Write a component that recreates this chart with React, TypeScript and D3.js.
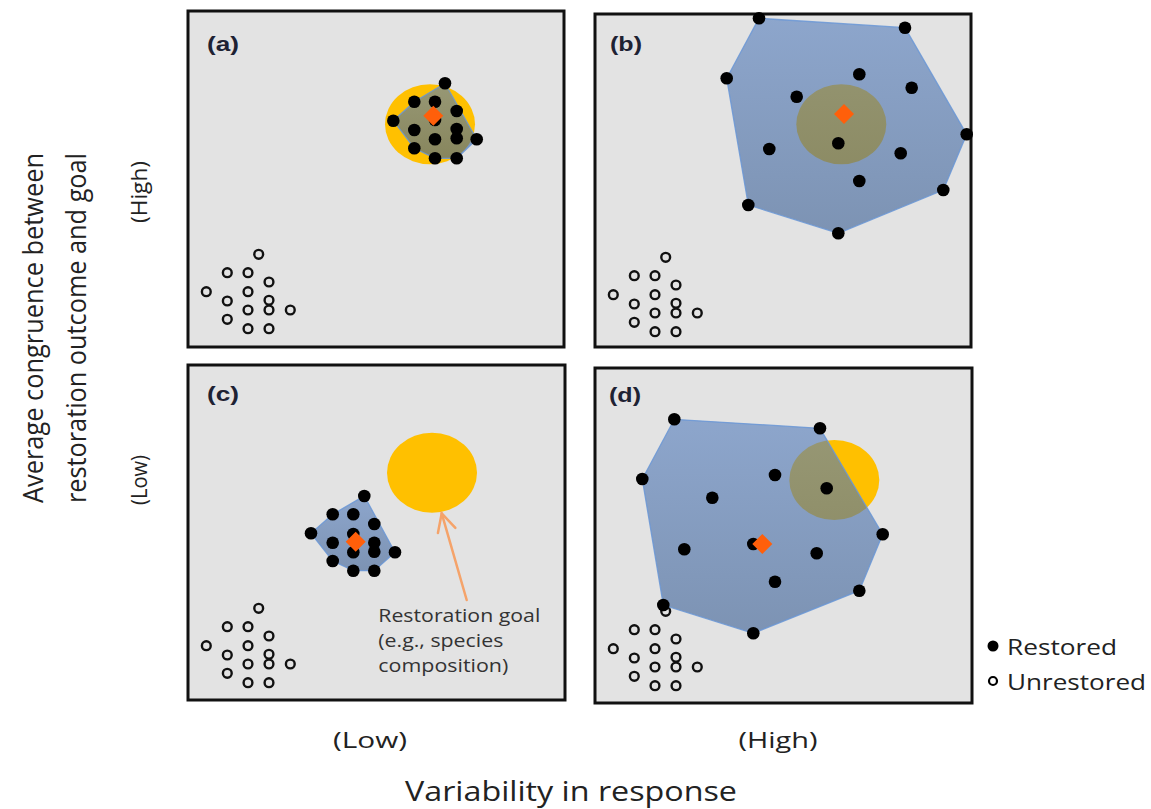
import React from "react";
import * as d3 from "d3";

type P = [number, number];

// ---------- data (panel units: x rightwards, y downwards from panel's top-left) ----------
const unrestored: P[] = [
  [70.7, 243.3], [39.3, 261.7], [60, 261.7], [81, 271], [18.3, 280.7], [60, 280.7],
  [39.3, 290], [81, 289.3], [60, 299], [81, 299], [102.3, 299], [39.3, 308.3],
  [60, 317.7], [81, 317.7],
];

const restoredA: P[] = [
  [257, 72.3], [226.3, 90.7], [247, 90.7], [268.7, 100], [205.3, 109.7], [247, 109],
  [226.3, 119], [268.7, 118], [247, 128.3], [268.7, 127.3], [288.7, 128.3],
  [226.3, 137.3], [247, 147.3], [268.7, 147.3],
];
const restoredB: P[] = [
  [164, 4.3], [310, 13.7], [131.7, 64.3], [264.3, 60.3], [316.7, 73.7], [201.7, 82.7],
  [371.7, 120.3], [174.3, 135], [243.3, 129.3], [305.7, 139.3], [264.3, 167],
  [348.3, 176], [153.3, 191], [243.3, 219.3],
];
const restoredC: P[] = [
  [176.3, 131], [144.7, 149.3], [165.3, 149.3], [186.3, 159], [123, 168.3], [165.3, 169],
  [144.7, 177.7], [186.3, 177.7], [186.3, 186.7], [207, 187.3], [165.3, 187.3],
  [144.7, 196], [165.3, 205.7], [186.3, 205.7],
];
const restoredD: P[] = [
  [79.3, 51.3], [225, 60.3], [47.3, 111], [180, 107], [231.7, 120.3], [117.3, 129.7],
  [89.3, 181.3], [158.3, 176], [221.7, 185.3], [287.7, 166.3], [180, 213.7],
  [264.3, 222.7], [68.3, 237], [158.3, 265.3],
];

const centroids: P[] = [[245.3, 104.7], [249, 100], [167.7, 176.7], [167.3, 176]];
const goals: P[] = [[242, 113.3], [246.3, 110.3], [244, 107.7], [239.3, 112]];
const goalRadius: P = [45, 40];

const panelLabels = ["(a)", "(b)", "(c)", "(d)"];
const xLevelLabels = ["(Low)", "(High)"];
const yLevelLabels = ["(High)", "(Low)"];
const xTitle = "Variability in response";
const yTitle = ["Average congruence between", "restoration outcome and goal"];
const legendLabels = ["Restored", "Unrestored"];
const goalNote = ["Restoration goal", "(e.g., species", "composition)"];
const arrowFrom: P = [278.7, 235];
const arrowTo: P = [253.7, 148.3];

// ---------- layout ----------
const panels = [
  { x: 188, y: 11, w: 376, h: 336, pts: restoredA, lx: 19, ly: 40 },
  { x: 595, y: 14, w: 376, h: 333, pts: restoredB, lx: 15, ly: 37 },
  { x: 188, y: 365, w: 377, h: 335, pts: restoredC, lx: 19, ly: 36 },
  { x: 595, y: 368, w: 377, h: 335, pts: restoredD, lx: 14, ly: 34 },
];
const noteWidths = [162, 125, 130];

const BG = "#e3e3e3";
const TEXT = "#222";
const ORANGE_ARROW = "#f5a36a";
const DIAMOND = "#ff5f0a";
const YELLOW = "#ffc000";

function Panel({ i }: { i: number }) {
  const p = panels[i];
  const xs = d3.scaleLinear().domain([0, p.w]).range([p.x, p.x + p.w]);
  const ys = d3.scaleLinear().domain([0, p.h]).range([p.y, p.y + p.h]);
  const px: P[] = p.pts.map((d) => [xs(d[0]), ys(d[1])]);
  const hull = d3.polygonHull(px) as P[];
  const hullPath = d3.line()(hull.concat([hull[0]])) + "Z";
  const goal = goals[i];
  const cen = centroids[i];
  const diamond = d3.symbol().type(d3.symbolSquare).size(200)();
  const rx = xs(goalRadius[0]) - xs(0);
  const ry = ys(goalRadius[1]) - ys(0);

  let arrow: React.ReactNode = null;
  if (i === 2) {
    const t = [xs(arrowTo[0]), ys(arrowTo[1])];
    const f = [xs(arrowFrom[0]), ys(arrowFrom[1])];
    const ang = Math.atan2(f[1] - t[1], f[0] - t[0]);
    const L = 20, a = (27 * Math.PI) / 180;
    const a1 = [t[0] + L * Math.cos(ang + a), t[1] + L * Math.sin(ang + a)];
    const a2 = [t[0] + L * Math.cos(ang - a), t[1] + L * Math.sin(ang - a)];
    arrow = (
      <g stroke={ORANGE_ARROW} strokeWidth={2.5} fill="none" strokeLinecap="round">
        <line x1={f[0]} y1={f[1]} x2={t[0]} y2={t[1]} />
        <polyline points={`${a1[0]},${a1[1]} ${t[0]},${t[1]} ${a2[0]},${a2[1]}`} />
      </g>
    );
  }

  return (
    <g>
      <rect x={p.x} y={p.y} width={p.w} height={p.h} fill={BG} stroke="#111" strokeWidth={3} />
      <text x={p.x + p.lx} y={p.y + p.ly} fontFamily="Liberation Sans, Arial, sans-serif"
        fontWeight="bold" fontSize={21} fill="#1e2233" textLength={32} lengthAdjust="spacingAndGlyphs">
        {panelLabels[i]}
      </text>
      {unrestored.map((d, k) => (
        <circle key={"u" + k} cx={xs(d[0])} cy={ys(d[1])} r={4.4} fill={BG} stroke="#111" strokeWidth={2.4} />
      ))}
      <ellipse cx={xs(goal[0])} cy={ys(goal[1])} rx={rx} ry={ry} fill={YELLOW} />
      <path d={hullPath} fill="url(#hullGrad)" stroke="#6a96d6" strokeOpacity={0.85} strokeWidth={1.3} />
      {px.map((d, k) => (
        <circle key={"r" + k} cx={d[0]} cy={d[1]} r={6.3} fill="#000" />
      ))}
      <path d={diamond} transform={`translate(${xs(cen[0])},${ys(cen[1])}) rotate(45)`} fill={DIAMOND} />
      {arrow}
      {i === 2 &&
        goalNote.map((s, k) => (
          <text key={"n" + k} x={378.3} y={622 + k * 25} fontFamily="Open Sans, sans-serif"
            fontSize={18} fill="#333" textLength={noteWidths[k]} lengthAdjust="spacingAndGlyphs">
            {s}
          </text>
        ))}
    </g>
  );
}

export default function App() {
  return (
    <svg width={1151} height={809} style={{ position: "absolute", left: 0, top: 0, background: "#fff" }}>
      <defs>
        <linearGradient id="hullGrad" x1="0" y1="0" x2="0" y2="1">
          <stop offset="0" stopColor="rgb(88,128,190)" stopOpacity={0.62} />
          <stop offset="1" stopColor="rgb(62,98,150)" stopOpacity={0.62} />
        </linearGradient>
      </defs>
      {panels.map((_, i) => (
        <Panel key={i} i={i} />
      ))}

      {/* y title */}
      {yTitle.map((s, k) => (
        <text key={"yt" + k} transform={`translate(${43 + k * 43},328) rotate(-90)`} textAnchor="middle"
          fontFamily="Open Sans, sans-serif" fontSize={27} fill={TEXT} textLength={350} lengthAdjust="spacingAndGlyphs">
          {s}
        </text>
      ))}
      {yLevelLabels.map((s, k) => (
        <text key={"yl" + k} transform={`translate(147,${k === 0 ? 192 : 480}) rotate(-90)`} textAnchor="middle"
          fontFamily="Open Sans, sans-serif" fontSize={21} fill={TEXT}
          textLength={k === 0 ? 62 : 50} lengthAdjust="spacingAndGlyphs">
          {s}
        </text>
      ))}
      {xLevelLabels.map((s, k) => (
        <text key={"xl" + k} x={k === 0 ? 370 : 778} y={748} textAnchor="middle"
          fontFamily="Open Sans, sans-serif" fontSize={21} fill={TEXT}
          textLength={k === 0 ? 74 : 79} lengthAdjust="spacingAndGlyphs">
          {s}
        </text>
      ))}
      <text x={571} y={801} textAnchor="middle" fontFamily="Open Sans, sans-serif" fontSize={28} fill={TEXT}
        textLength={332} lengthAdjust="spacingAndGlyphs">
        {xTitle}
      </text>

      {/* legend */}
      <circle cx={993} cy={646} r={5.5} fill="#000" />
      <text x={1007} y={655} fontFamily="Open Sans, sans-serif" fontSize={22} fill={TEXT}
        textLength={110} lengthAdjust="spacingAndGlyphs">{legendLabels[0]}</text>
      <circle cx={993} cy={681} r={4} fill="#fff" stroke="#000" strokeWidth={2.2} />
      <text x={1007} y={690} fontFamily="Open Sans, sans-serif" fontSize={22} fill={TEXT}
        textLength={139} lengthAdjust="spacingAndGlyphs">{legendLabels[1]}</text>
    </svg>
  );
}
